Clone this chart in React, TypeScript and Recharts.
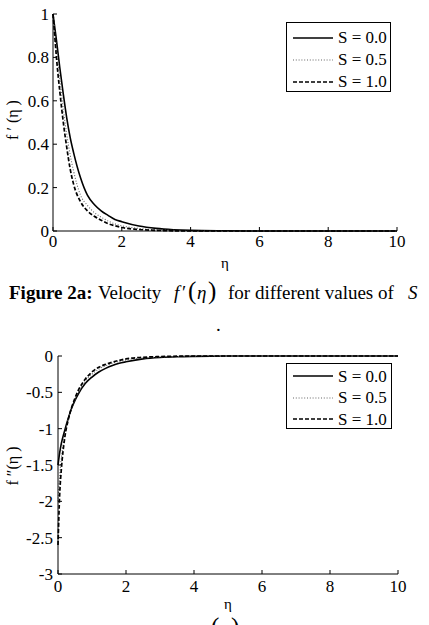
import React from "react";
import { LineChart, Line, XAxis, YAxis, Legend } from "recharts";

const serif = "'Liberation Serif', 'Times New Roman', serif";

// η sample points shared by every curve
const etaPoints = [
  0, 0.05, 0.1, 0.2, 0.3, 0.4, 0.5, 0.6, 0.8, 1.0, 1.2, 1.4, 1.6, 1.8, 2.0,
  2.5, 3.0, 3.5, 4.0, 5.0, 6.0, 7.0, 8.0, 9.0, 10.0,
];

// velocity f'(η)
const velocityS00 = [
  1, 0.94, 0.88, 0.75, 0.63, 0.52, 0.43, 0.36, 0.245, 0.165, 0.122, 0.093,
  0.072, 0.053, 0.043, 0.023, 0.012, 0.006, 0.003, 0.001, 0, 0, 0, 0, 0,
];
const velocityS05 = [
  1, 0.92, 0.84, 0.7, 0.56, 0.445, 0.35, 0.275, 0.165, 0.118, 0.085, 0.064,
  0.046, 0.033, 0.024, 0.012, 0.006, 0.003, 0.001, 0, 0, 0, 0, 0, 0,
];
const velocityS10 = [
  1, 0.9, 0.8, 0.64, 0.5, 0.385, 0.285, 0.215, 0.135, 0.093, 0.068, 0.05,
  0.034, 0.024, 0.016, 0.007, 0.003, 0.001, 0, 0, 0, 0, 0, 0, 0,
];

// shear f''(η)
const shearS00 = [
  -1.5, -1.33, -1.2, -1.02, -0.86, -0.72, -0.61, -0.52, -0.38, -0.29, -0.22,
  -0.17, -0.13, -0.1, -0.08, -0.04, -0.02, -0.01, -0.005, -0.001, 0, 0, 0, 0, 0,
];
const shearS05 = [
  -2.0, -1.65, -1.4, -1.08, -0.87, -0.72, -0.6, -0.5, -0.35, -0.25, -0.18,
  -0.135, -0.1, -0.075, -0.055, -0.028, -0.014, -0.007, -0.003, -0.001, 0, 0,
  0, 0, 0,
];
const shearS10 = [
  -2.6, -1.9, -1.55, -1.12, -0.88, -0.71, -0.58, -0.47, -0.32, -0.22, -0.155,
  -0.115, -0.085, -0.06, -0.04, -0.018, -0.008, -0.003, -0.001, 0, 0, 0, 0, 0,
  0,
];

const etaTicks = [0, 2, 4, 6, 8, 10];
const velocityTicks = [0, 0.2, 0.4, 0.6, 0.8, 1];
const shearTicks = [-3, -2.5, -2, -1.5, -1, -0.5, 0];

type SeriesStyle = { key: string; name: string; stroke: string; width: number; dash?: string };

const seriesStyles: SeriesStyle[] = [
  { key: "s00", name: "S = 0.0", stroke: "#000", width: 1.6 },
  { key: "s05", name: "S = 0.5", stroke: "#666", width: 1.1, dash: "1 1.8" },
  { key: "s10", name: "S = 1.0", stroke: "#000", width: 1.7, dash: "4 2" },
];

const velocityRows = etaPoints.map((eta, i) => ({
  eta,
  s00: velocityS00[i],
  s05: velocityS05[i],
  s10: velocityS10[i],
}));

const shearRows = etaPoints.map((eta, i) => ({
  eta,
  s00: shearS00[i],
  s05: shearS05[i],
  s10: shearS10[i],
}));

const TICK_LEN = 4;
const FONT = 17;

// MATLAB-style ticks: short marks pointing into the box, labels outside
const bottomTick = (gap: number) => (p: any) => (
  <g>
    <line x1={p.x} x2={p.x} y1={p.y - gap} y2={p.y - gap - TICK_LEN} stroke="#000" />
    <text x={p.x} y={p.y} dy="0.71em" textAnchor="middle" fontSize={FONT} fontFamily={serif} fill="#000">
      {p.payload.value}
    </text>
  </g>
);

const leftTick = (gap: number) => (p: any) => (
  <g>
    <line x1={p.x + gap} x2={p.x + gap + TICK_LEN} y1={p.y} y2={p.y} stroke="#000" />
    <text x={p.x} y={p.y} dy="0.355em" textAnchor="end" fontSize={FONT} fontFamily={serif} fill="#000">
      {p.payload.value}
    </text>
  </g>
);

const topTick = (p: any) => <line x1={p.x} x2={p.x} y1={p.y} y2={p.y + TICK_LEN} stroke="#000" />;
const rightTick = (p: any) => <line x1={p.x} x2={p.x - TICK_LEN} y1={p.y} y2={p.y} stroke="#000" />;

function LegendBox({ padTop, rowH }: { padTop: number; rowH: number }) {
  return (
    <div
      style={{
        position: "relative",
        width: "100%",
        height: "100%",
        boxSizing: "border-box",
        border: "1px solid #000",
        background: "#fff",
        fontFamily: serif,
        fontSize: FONT,
        color: "#000",
      }}
    >
      {seriesStyles.map((s, i) => (
        <div
          key={s.key}
          style={{
            position: "absolute",
            left: 6,
            top: padTop + i * rowH,
            height: rowH,
            display: "flex",
            alignItems: "center",
            whiteSpace: "nowrap",
          }}
        >
          <svg width={40} height={4} style={{ display: "block" }}>
            <line x1={0} x2={40} y1={2} y2={2} stroke={s.stroke} strokeWidth={s.width} strokeDasharray={s.dash} />
          </svg>
          <span style={{ marginLeft: 5, lineHeight: `${rowH}px` }}>{s.name}</span>
        </div>
      ))}
    </div>
  );
}

type PanelProps = {
  rows: typeof velocityRows;
  height: number;
  margin: { top: number; right: number; bottom: number; left: number };
  yWidth: number;
  yDomain: [number, number];
  yTicks: number[];
  xGap: number;
  yGap: number;
  legend: { left: number; top: number; width: number; height: number; padTop: number; rowH: number };
};

function Panel({ rows, height, margin, yWidth, yDomain, yTicks, xGap, yGap, legend }: PanelProps) {
  return (
    <LineChart width={429} height={height} data={rows} margin={margin} style={{ fontFamily: serif }}>
      <XAxis
        xAxisId="b"
        dataKey="eta"
        type="number"
        domain={[0, 10]}
        ticks={etaTicks}
        interval={0}
        height={30}
        tickSize={0}
        tickMargin={xGap}
        tickLine={false}
        axisLine={{ stroke: "#000" }}
        tick={bottomTick(xGap)}
      />
      <XAxis
        xAxisId="t"
        orientation="top"
        dataKey="eta"
        type="number"
        domain={[0, 10]}
        ticks={etaTicks}
        interval={0}
        height={0}
        tickSize={0}
        tickMargin={0}
        tickLine={false}
        axisLine={{ stroke: "#000" }}
        tick={topTick}
      />
      <YAxis
        yAxisId="l"
        type="number"
        domain={yDomain}
        ticks={yTicks}
        interval={0}
        width={yWidth}
        tickSize={0}
        tickMargin={yGap}
        tickLine={false}
        axisLine={{ stroke: "#000" }}
        tick={leftTick(yGap)}
      />
      <YAxis
        yAxisId="r"
        orientation="right"
        type="number"
        domain={yDomain}
        ticks={yTicks}
        interval={0}
        width={0}
        tickSize={0}
        tickMargin={0}
        tickLine={false}
        axisLine={{ stroke: "#000" }}
        tick={rightTick}
      />
      {seriesStyles.map((s) => (
        <Line
          key={s.key}
          xAxisId="b"
          yAxisId="l"
          type="monotone"
          dataKey={s.key}
          name={s.name}
          stroke={s.stroke}
          strokeWidth={s.width}
          strokeDasharray={s.dash}
          dot={false}
          activeDot={false}
          isAnimationActive={false}
        />
      ))}
      <Legend
        layout="vertical"
        align="center"
        verticalAlign="middle"
        wrapperStyle={{ left: legend.left, top: legend.top, width: legend.width, height: legend.height }}
        content={() => <LegendBox padTop={legend.padTop} rowH={legend.rowH} />}
      />
    </LineChart>
  );
}

export default function App() {
  return (
    <div style={{ position: "absolute", left: 0, top: 0, width: 429, height: 625, background: "#fff", overflow: "hidden" }}>
      <div style={{ position: "absolute", left: 0, top: 0 }}>
        <Panel
          rows={velocityRows}
          height={275}
          margin={{ top: 14, right: 32, bottom: 14, left: 0 }}
          yWidth={53}
          yDomain={[0, 1]}
          yTicks={velocityTicks}
          xGap={4}
          yGap={4}
          legend={{ left: 286, top: 22, width: 105, height: 70, padTop: 4, rowH: 22 }}
        />
      </div>
      <div style={{ position: "absolute", left: 0, top: 340 }}>
        <Panel
          rows={shearRows}
          height={285}
          margin={{ top: 16, right: 31, bottom: 21, left: 0 }}
          yWidth={58}
          yDomain={[-3, 0]}
          yTicks={shearTicks}
          xGap={6}
          yGap={5}
          legend={{ left: 286, top: 23, width: 106, height: 66, padTop: 1.5, rowH: 21.5 }}
        />
      </div>
      {/* axis titles and figure caption */}
      <svg width={429} height={625} style={{ position: "absolute", left: 0, top: 0, pointerEvents: "none" }} fontFamily={serif} fill="#000">
        <text x={18} y={120} transform="rotate(-90 18 120)" textAnchor="middle" fontSize={16}>
          f ′ (η )
        </text>
        <text x={225} y={268} textAnchor="middle" fontSize={15}>η</text>

        <text y={299} fontSize={19}>
          <tspan x={9} fontWeight="bold">Figure 2a:</tspan>
          <tspan x={98}>Velocity</tspan>
          <tspan x={174} fontStyle="italic">f</tspan>
          <tspan x={182}>′</tspan>
          <tspan x={188} fontSize={25}>(</tspan>
          <tspan x={197} fontStyle="italic">η</tspan>
          <tspan x={208} fontSize={25}>)</tspan>
          <tspan x={228}>for different values of</tspan>
          <tspan x={408} fontStyle="italic">S</tspan>
        </text>
        <text x={216} y={331} fontSize={19}>.</text>

        <text x={18} y={466} transform="rotate(-90 18 466)" textAnchor="middle" fontSize={16}>
          f ″(η )
        </text>
        <text x={228} y={609} textAnchor="middle" fontSize={15}>η</text>
        <text y={635} fontSize={25}>
          <tspan x={211}>(</tspan>
          <tspan x={220} fontSize={19} fontStyle="italic">η</tspan>
          <tspan x={231}>)</tspan>
        </text>
      </svg>
    </div>
  );
}
